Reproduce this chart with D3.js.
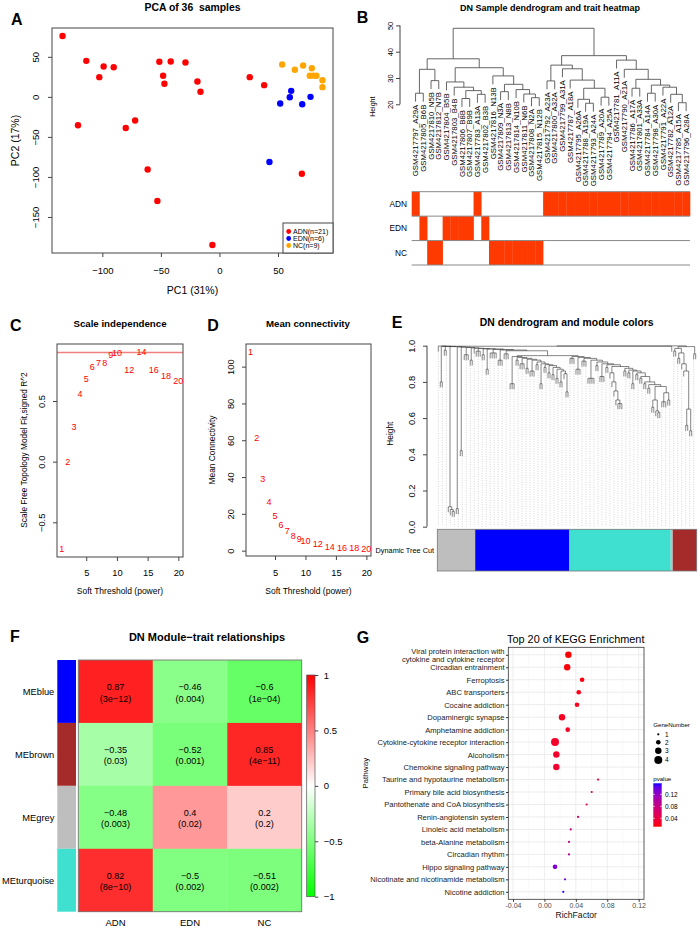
<!DOCTYPE html>
<html><head><meta charset="utf-8">
<script src="https://cdn.jsdelivr.net/npm/d3@7"></script>
<style>body{margin:0;background:#fff}svg{display:block}</style>
</head><body>
<script>
// ---------------- DATA ----------------
// Panel A: PCA
const pcaGroups = ["ADN(n=21)", "EDN(n=6)", "NC(n=9)"];
const adnPC1 = [-134, -113.7, -98.9, -90.3, -102.6, -120.8, -80, -72, -61.3, -53, -51.3, -41.6, -29, -48.1, -47, -18.8, -16.2, -6, 25.9, 38.2, 70.4];
const adnPC2 = [76, 45, 38, 37, 24.6, -35.4, -38.8, -29.6, -90.8, -130, 43.8, 44.2, 43, 26.3, 16.3, 19.2, 6.3, -185, 24.6, 14.6, -96];
const ednPC1 = [51.9, 61.3, 60.1, 70.7, 77.8, 42.7];
const ednPC2 = [-8.3, 7.5, -0.4, -9.2, 0, -81.3];
const ncPC1 = [53.6, 64.4, 71.5, 78.9, 77.2, 80, 82.8, 88, 88];
const ncPC2 = [40.4, 33.8, 39.2, 35.8, 26.3, 26.5, 26.3, 20.8, 12.1];
const pcaXTicks = [-100, -50, 0, 50];
const pcaYTicks = [-150, -100, -50, 0, 50];

// Panel B: sample dendrogram + trait heatmap
const sampleLabels = ["GSM4217797_A29A","GSM4217805_B6B","GSM4217810_N5B","GSM4217812_N7B","GSM4217804_B5B","GSM4217803_B4B","GSM4217806_B8B","GSM4217807_B9B","GSM4217783_A13A","GSM4217802_B3B","GSM4217816_N13B","GSM4217809_N3A","GSM4217813_N8B","GSM4217814_N10B","GSM4217811_N6B","GSM4217808_N2A","GSM4217815_N12B","GSM4217792_A23A","GSM4217800_A32A","GSM4217799_A31A","GSM4217787_A18A","GSM4217795_A26A","GSM4217788_A19A","GSM4217793_A24A","GSM4217789_A20A","GSM4217794_A25A","GSM4217781_A11A","GSM4217790_A21A","GSM4217786_A17A","GSM4217801_A33A","GSM4217784_A14A","GSM4217798_A30A","GSM4217791_A22A","GSM4217782_A12A","GSM4217785_A15A","GSM4217796_A28A"];
const traitNames = ["ADN", "EDN", "NC"];
const traitCode = {A: "ADN", B: "EDN", N: "NC"};
// [merge height, left, right]; numbers = leaf index
const sampleTree = [48.9,
  [37.3,
    [33.3, [24.2, 0, 1], [29.0, 2, 3]],
    [33.9,
      [28.5, 4, [26.5, 5, [25.2, [22.2, 6, 7], [23.8, 8, 9]]]],
      [30.8, 10, [27.6, [24.8, 11, 12], [25.6, 13, [23.9, 14, [22.5, 15, 16]]]]]]],
  [38.5,
    [34.9, [28.9, 17, 18], [33.5, 19, [29.2, 20, [26.1, [21.9, 21, [20.4, 22, 23]], [22.7, 24, 25]]]]],
    [36.8, 26, [33.3, 27, [29.5, [26.1, 28, 29], [27.3, [24.2, 30, 31], [26.5, 32, [23.8, 33, [20.6, 34, 35]]]]]]]]];
const sampleYTicks = [20, 30, 40, 50];

// Panel C / D: soft threshold
const powers = [1,2,3,4,5,6,7,8,9,10,12,14,16,18,20];
const scaleFitR2 = [-0.72, 0.0, 0.29, 0.56, 0.68, 0.78, 0.816, 0.816, 0.877, 0.893, 0.756, 0.904, 0.756, 0.71, 0.667];
const meanConnectivity = [107.8, 61.4, 38.8, 26.5, 18.9, 13.8, 10.9, 8.0, 6.2, 5.1, 3.5, 2.2, 1.8, 1.3, 1.0];
const r2Cutoff = 0.9;

// Panel E: gene dendrogram ([attach height, subtree]; 0 = gene leaf)
const eLeftElems = [
  [0.998, 0], [0.997, [0.80, 0, 0]], [0.996, [0.975, 0, 0]],
  [0.995, [0.11, 0, [0.095, 0, [0.085, 0, 0]]]], [0.993, [0.10, 0, 0]], [0.992, [0.42, 0, 0]],
  [0.99, [0.95, 0, 0, 0]], [0.988, [0.92, 0, 0]], [0.986, 0],
  [0.984, [0.97, 0, 0, 0]], [0.983, [0.95, 0, 0]], [0.982, [0.87, 0, 0]],
  [0.979, [0.96, 0, 0, 0, 0]], [0.976, [0.92, 0, 0, 0]], [0.972, [0.955, 0, 0, 0]]];
const eBlueElems = [
  [0.94, [0.79, 0, 0, 0]], [0.935, [0.92, 0, 0]], [0.93, [0.90, 0, 0, 0]], [0.925, [0.875, 0, 0]],
  [0.92, [0.86, 0, 0, 0]], [0.91, [0.895, 0, 0]], [0.90, [0.79, 0, 0]], [0.895, [0.88, 0, 0]],
  [0.89, [0.85, 0, 0]], [0.88, [0.84, 0, 0]], [0.87, [0.82, 0, 0]], [0.86, [0.80, 0, 0]]];
const eBlueTail = [0.845, 0, [0.745, 0, 0]];
const eTurqElems = [
  [0.94, [0.93, 0, 0, 0]], [0.935, [0.87, 0, 0, 0]], [0.93, [0.915, 0, 0, 0]], [0.92, [0.82, 0, 0, 0, 0]],
  [0.91, [0.89, 0, 0]], [0.90, [0.83, 0, 0, 0]], [0.895, [0.88, 0, 0]],
  [0.885, [0.85, 0, [0.80, 0, [0.75, 0, [0.70, 0, [0.68, 0, 0, 0]]]]]],
  [0.875, [0.86, 0, 0]], [0.865, [0.85, 0, 0]], [0.86, [0.79, 0, 0]], [0.85, [0.84, 0, 0]],
  [0.83, [0.82, 0, 0]], [0.80, [0.79, 0, 0]], [0.785, [0.765, 0, 0]]];
const eTurqTail = [0.775, [0.70, [0.66, 0, 0], [0.64, 0, [0.63, 0, 0]]], [0.74, [0.69, 0, 0, 0], [0.70, 0, 0]]];
const eBrownElems = [[0.985, [0.97, 0, 0]], [0.96, [0.93, 0, 0]], [0.90, 0], [0.86, 0]];
const eBrownTail = [0.65, [0.56, 0, 0], [0.53, 0, 0]];
const eBrownStub = [0.955, 0, 0];
const eModuleSizes = [["grey", 19], ["blue", 47], ["turquoise", 51], ["grey", 1], ["brown", 12]];
const eYTicks = [0, 0.2, 0.4, 0.6, 0.8, 1.0];

// Panel F: module-trait relationships
const modules = ["MEblue", "MEbrown", "MEgrey", "MEturquoise"];
const traits = ["ADN", "EDN", "NC"];
const corValues = [[0.87, -0.46, -0.6], [-0.35, -0.52, 0.85], [-0.48, 0.4, 0.2], [0.82, -0.5, -0.51]];
const corPValues = [["3e-12", "0.004", "1e-04"], ["0.03", "0.001", "4e-11"], ["0.003", "0.02", "0.2"], ["8e-10", "0.002", "0.002"]];
const corLegendTicks = [-1, -0.5, 0, 0.5, 1];

// Panel G: KEGG enrichment
const pathways = ["Viral protein interaction with\ncytokine and cytokine receptor", "Circadian entrainment", "Ferroptosis", "ABC transporters", "Cocaine addiction", "Dopaminergic synapse", "Amphetamine addiction", "Cytokine-cytokine receptor interaction", "Alcoholism", "Chemokine signaling pathway", "Taurine and hypotaurine metabolism", "Primary bile acid biosynthesis", "Pantothenate and CoA biosynthesis", "Renin-angiotensin system", "Linoleic acid metabolism", "beta-Alanine metabolism", "Circadian rhythm", "Hippo signaling pathway", "Nicotinate and nicotinamide metabolism", "Nicotine addiction"];
const richFactor = [0.0305, 0.029, 0.048, 0.0437, 0.0415, 0.0224, 0.0297, 0.0135, 0.0152, 0.0152, 0.0683, 0.0602, 0.0538, 0.0428, 0.0335, 0.0313, 0.0313, 0.0135, 0.0262, 0.024];
const geneNumber = [3, 3, 2, 2, 2, 3, 2, 4, 3, 3, 1, 1, 1, 1, 1, 1, 1, 2, 1, 1];
const pValue = [0.012, 0.014, 0.016, 0.018, 0.02, 0.022, 0.024, 0.026, 0.028, 0.03, 0.04, 0.045, 0.05, 0.06, 0.08, 0.09, 0.095, 0.13, 0.14, 0.155];
const richTicks = [-0.04, 0, 0.04, 0.08, 0.12];
const geneLegend = [1, 2, 3, 4];
const pLegendTicks = [0.04, 0.08, 0.12];

// ---------------- DRAWING ----------------
const FONT = "'Liberation Sans', Arial, Helvetica, sans-serif";
const AX = "#444";
const svg = d3.select("body").append("svg").attr("width", 699).attr("height", 936).attr("font-family", FONT);
svg.append("rect").attr("width", 699).attr("height", 936).attr("fill", "#fff");
const defs = svg.append("defs");

function label(g, x, y, s, o = {}) {
  const t = g.append("text").attr("x", x).attr("y", y).text(s)
    .attr("font-size", o.fs || 9).attr("text-anchor", o.anchor || "start").attr("fill", o.fill || "#000");
  if (o.bold) t.attr("font-weight", "bold");
  if (o.rot) t.attr("transform", `rotate(${o.rot},${x},${y})`);
  if (o.pre) t.style("white-space", "pre");
  return t;
}
const fmtR = d => d3.format("")(d);
function rBottom(g, scale, ticks, y0, fs, base, fmt, line) {
  const a = g.append("g").attr("transform", `translate(0,${y0})`)
    .call(d3.axisBottom(scale).tickValues(ticks).tickSize(4).tickFormat(fmt || fmtR));
  a.attr("font-family", FONT).attr("font-size", fs);
  a.select(".domain").remove();
  if (line) a.append("line").attr("x1", scale(ticks[0])).attr("x2", scale(ticks[ticks.length - 1])).attr("stroke", AX);
  a.selectAll(".tick line").attr("stroke", AX);
  a.selectAll(".tick text").attr("y", base).attr("dy", 0).attr("fill", "#000");
  return a;
}
function rLeft(g, scale, ticks, x0, fs, d, fmt, line) {
  const a = g.append("g").attr("transform", `translate(${x0},0)`)
    .call(d3.axisLeft(scale).tickValues(ticks).tickSize(4).tickFormat(fmt || fmtR));
  a.attr("font-family", FONT).attr("font-size", fs);
  a.select(".domain").remove();
  if (line) a.append("line").attr("y1", scale(ticks[0])).attr("y2", scale(ticks[ticks.length - 1])).attr("stroke", AX);
  a.selectAll(".tick line").attr("stroke", AX);
  a.selectAll(".tick text").attr("x", 0).attr("y", -d).attr("dy", 0)
    .attr("transform", "rotate(-90)").attr("text-anchor", "middle").attr("fill", "#000");
  return a;
}
function layoutDendro(node, leafX) {
  if (typeof node === "number") { const p = leafX(node); return {leaf: true, x: p.x, id: p.id}; }
  const kids = node.slice(1).map(k => layoutDendro(k, leafX));
  return {leaf: false, h: node[0], x: d3.mean(kids, k => k.x), kids};
}
function drawDendro(g, root, y, hang, leafOut, stroke, sw) {
  const segs = [];
  (function rec(n) {
    if (n.leaf) return;
    const xs = n.kids.map(k => k.x);
    segs.push(`M${d3.min(xs)},${y(n.h)}H${d3.max(xs)}`);
    n.kids.forEach(k => {
      const hb = k.leaf ? n.h - hang : k.h;
      segs.push(`M${k.x},${y(n.h)}V${y(hb)}`);
      if (k.leaf) leafOut.push({x: k.x, h: hb, id: k.id});
      rec(k);
    });
  })(root);
  g.append("path").attr("d", segs.join("")).attr("fill", "none").attr("stroke", stroke).attr("stroke-width", sw);
}
function panelLetter(x, y, s) { label(svg, x, y, s, {fs: 16, bold: true}); }

// ===== Panel A =====
{
  const g = svg.append("g");
  const x = d3.scaleLinear().domain([-143, 97]).range([52, 333]);
  const y = d3.scaleLinear().domain([-195, 86]).range([253, 28]);
  panelLetter(11, 25, "A");
  label(g, 192.5, 11, "PCA of 36  samples", {fs: 10.4, bold: true, anchor: "middle", pre: true});
  rBottom(g, x, pcaXTicks, 253, 9.5, 20.5, null, false);
  rLeft(g, y, pcaYTicks, 52, 9.5, 13.5, null, false);
  g.append("rect").attr("x", 52).attr("y", 28).attr("width", 281).attr("height", 225).attr("fill", "none").attr("stroke", AX);
  const cols = ["#ff0000", "#0000ff", "#ffa500"];
  const sets = [[adnPC1, adnPC2], [ednPC1, ednPC2], [ncPC1, ncPC2]];
  sets.forEach(([px, py], gi) => {
    g.selectAll(null).data(px).enter().append("circle")
      .attr("cx", d => x(d)).attr("cy", (d, i) => y(py[i])).attr("r", 3.2).attr("fill", cols[gi]);
  });
  label(g, 192.5, 293.5, "PC1 (31%)", {fs: 10.5, anchor: "middle"});
  label(g, 18.5, 140.5, "PC2 (17%)", {fs: 10.5, anchor: "middle", rot: -90});
  const lg = g.append("g");
  lg.append("rect").attr("x", 283).attr("y", 223).attr("width", 50).attr("height", 30).attr("fill", "#fff").attr("stroke", AX);
  pcaGroups.forEach((t, i) => {
    const yy = 231.5 + i * 7;
    lg.append("circle").attr("cx", 288.7).attr("cy", yy).attr("r", 2.4).attr("fill", cols[i]);
    label(lg, 293, yy + 2.5, t, {fs: 7});
  });
}

// ===== Panel B =====
{
  const g = svg.append("g");
  panelLetter(356.7, 23.3, "B");
  label(g, 550, 10.5, "DN Sample dendrogram and trait heatmap", {fs: 9, bold: true, anchor: "middle"});
  const x = d3.scaleBand().domain(d3.range(sampleLabels.length)).range([411.7, 690]);
  const y = d3.scaleLinear().domain([20, 50]).range([104.3, 25.4]);
  const root = layoutDendro(sampleTree, i => ({x: x(i) + x.bandwidth() / 2, id: i}));
  const leaves = [];
  drawDendro(g, root, y, 3.2, leaves, "#555", 0.9);
  leaves.forEach(l => {
    const ly = y(l.h) + 3;
    g.append("text").attr("transform", `translate(${l.x},${ly}) rotate(-90)`)
      .attr("text-anchor", "end").attr("dy", "0.35em").attr("font-size", 7.8).attr("fill", "#000")
      .text(sampleLabels[l.id]);
  });
  rLeft(g, y, sampleYTicks, 400, 7.5, 7.3, null, true);
  label(g, 375.5, 106.7, "Height", {fs: 7, anchor: "middle", rot: -90});
  // heatmap
  const rowY = d3.scaleBand().domain(traitNames).range([191.7, 265]);
  sampleLabels.forEach((s, i) => {
    const t = traitCode[s.split("_")[1][0]];
    g.append("rect").attr("x", x(i)).attr("y", rowY(t)).attr("width", x.bandwidth() + 0.3)
      .attr("height", rowY.bandwidth()).attr("fill", "#ff3a00");
  });
  [191.7].concat(traitNames.map(t => rowY(t) + rowY.bandwidth())).forEach(yy => {
    g.append("line").attr("x1", 411.7).attr("x2", 690).attr("y1", yy).attr("y2", yy).attr("stroke", "#888").attr("stroke-width", 1);
  });
  traitNames.forEach(t => label(g, 407, rowY(t) + rowY.bandwidth() / 2 + 3, t, {fs: 8.3, anchor: "end"}));
}

// ===== Panel C =====
{
  const g = svg.append("g");
  panelLetter(10, 330.7, "C");
  const x = d3.scaleLinear().domain([0.24, 20.76]).range([57, 183]);
  const y = d3.scaleLinear().domain([-0.786, 0.97]).range([557, 344]);
  label(g, 120, 326.5, "Scale independence", {fs: 9.7, bold: true, anchor: "middle"});
  rBottom(g, x, [5, 10, 15, 20], 557, 9.3, 19, null, false);
  rLeft(g, y, [-0.5, 0, 0.5], 57, 9.3, 11.6, d3.format(".1f"), false);
  g.append("line").attr("x1", 57).attr("x2", 183).attr("y1", y(r2Cutoff)).attr("y2", y(r2Cutoff)).attr("stroke", "#f08080").attr("stroke-width", 1.3);
  g.append("rect").attr("x", 57).attr("y", 344).attr("width", 126).attr("height", 213).attr("fill", "none").attr("stroke", AX);
  g.selectAll(null).data(powers).enter().append("text")
    .attr("x", d => x(d)).attr("y", (d, i) => y(scaleFitR2[i])).attr("dy", "0.35em")
    .attr("text-anchor", "middle").attr("font-size", 9).attr("fill", "#ff0000").text(d => d);
  label(g, 120, 593.5, "Soft Threshold (power)", {fs: 8.5, anchor: "middle"});
  label(g, 27.3, 450, "Scale Free Topology Model Fit,signed R^2", {fs: 8.3, anchor: "middle", rot: -90});
}

// ===== Panel D =====
{
  const g = svg.append("g");
  panelLetter(207.3, 330.7, "D");
  const x = d3.scaleLinear().domain([0.24, 20.76]).range([246, 371]);
  const y = d3.scaleLinear().domain([-2.9, 112.3]).range([556, 344]);
  label(g, 308, 326.5, "Mean connectivity", {fs: 9.7, bold: true, anchor: "middle"});
  rBottom(g, x, [5, 10, 15, 20], 556, 9.3, 20, null, false);
  rLeft(g, y, [0, 20, 40, 60, 80, 100], 246, 9.3, 11.6, null, false);
  g.append("rect").attr("x", 246).attr("y", 344).attr("width", 125).attr("height", 212).attr("fill", "none").attr("stroke", AX);
  g.selectAll(null).data(powers).enter().append("text")
    .attr("x", d => x(d)).attr("y", (d, i) => y(meanConnectivity[i])).attr("dy", "0.35em")
    .attr("text-anchor", "middle").attr("font-size", 9).attr("fill", "#ff0000").text(d => d);
  label(g, 308.5, 593.5, "Soft Threshold (power)", {fs: 8.5, anchor: "middle"});
  label(g, 215, 450, "Mean Connectivity", {fs: 8.4, anchor: "middle", rot: -90});
}

// ===== Panel E =====
{
  const g = svg.append("g");
  panelLetter(391.7, 328.3, "E");
  label(g, 566.7, 325.5, "DN dendrogram and module colors", {fs: 10.4, bold: true, anchor: "middle"});
  const chain = (elems, tail) => elems.reduceRight((rest, [h, sub]) => [h, sub, rest], tail);
  const eTree = [0.999,
    [0.997, chain(eLeftElems, [0.945, chain(eBlueElems, eBlueTail), chain(eTurqElems, eTurqTail)]), 0],
    [0.995, chain(eBrownElems, eBrownTail), eBrownStub]];
  const nLeaves = d3.sum(eModuleSizes, d => d[1]);
  const x = d3.scaleBand().domain(d3.range(nLeaves)).range([437.3, 696.7]);
  const y = d3.scaleLinear().domain([0, 1]).range([526.7, 345.7]);
  let counter = 0;
  const root = layoutDendro(eTree, () => { const i = counter++; return {x: x(i) + x.bandwidth() / 2, id: i}; });
  const leaves = [];
  const dg = g.append("g");
  drawDendro(dg, root, y, 0.03, leaves, "#333", 0.6);
  // guides
  const gg = g.insert("g", ":first-child");
  leaves.filter(l => l.id % 2 === 0).forEach(l => {
    gg.append("line").attr("x1", l.x).attr("x2", l.x).attr("y1", y(l.h)).attr("y2", y(0))
      .attr("stroke", "#b8b8b8").attr("stroke-width", 0.6).attr("stroke-dasharray", "1,1.4");
  });
  rLeft(g, y, eYTicks, 427, 9.3, 12.3, d3.format(".1f"), true);
  label(g, 393.3, 433.7, "Height", {fs: 8.4, anchor: "middle", rot: -90});
  // module colors
  const mcol = {grey: "#bebebe", blue: "#0000ff", turquoise: "#40e0d0", brown: "#a52a2a"};
  let idx = 0;
  eModuleSizes.forEach(([m, n]) => {
    g.append("rect").attr("x", x(idx)).attr("y", 529.3).attr("width", x.bandwidth() * n).attr("height", 41.7).attr("fill", mcol[m]);
    idx += n;
  });
  g.append("rect").attr("x", 437.3).attr("y", 529.3).attr("width", 259.4).attr("height", 41.7).attr("fill", "none").attr("stroke", "#777").attr("stroke-width", 0.8);
  label(g, 434, 552.5, "Dynamic Tree Cut", {fs: 7.3, anchor: "end"});
}

// ===== Panel F =====
{
  const g = svg.append("g");
  panelLetter(10, 641.7, "F");
  label(g, 207, 641, "DN Module\u2212trait relationships", {fs: 11, bold: true, anchor: "middle"});
  const x = d3.scaleBand().domain(traits).range([78.3, 301.7]);
  const y = d3.scaleBand().domain(modules).range([660, 911.7]);
  const col = d3.scaleLinear().domain([-1, 0, 1]).range(["#00ff00", "#ffffff", "#ff0000"]);
  const mcol = {MEblue: "#0000ff", MEbrown: "#a52a2a", MEgrey: "#bebebe", MEturquoise: "#40e0d0"};
  const minus = s => String(s).replace(/-/g, "\u2212");
  modules.forEach((m, i) => {
    g.append("rect").attr("x", 57.3).attr("y", y(m)).attr("width", 18.7).attr("height", y.bandwidth()).attr("fill", mcol[m]);
    label(g, 54.3, y(m) + y.bandwidth() / 2 + 3.3, m, {fs: 9.3, anchor: "end"});
    traits.forEach((t, j) => {
      g.append("rect").attr("x", x(t)).attr("y", y(m)).attr("width", x.bandwidth() + 0.3).attr("height", y.bandwidth() + 0.3).attr("fill", col(corValues[i][j]));
      const cx = x(t) + x.bandwidth() / 2, cy = y(m) + y.bandwidth() / 2;
      label(g, cx, cy - 1.5, minus(corValues[i][j]), {fs: 9.1, anchor: "middle"});
      label(g, cx, cy + 10.1, "(" + minus(corPValues[i][j]) + ")", {fs: 9.1, anchor: "middle"});
    });
  });
  g.append("rect").attr("x", 78.3).attr("y", 660).attr("width", 223.4).attr("height", 251.7).attr("fill", "none").attr("stroke", "#777").attr("stroke-width", 0.9);
  traits.forEach(t => label(g, x(t) + x.bandwidth() / 2, 925.7, t, {fs: 9.5, anchor: "middle"}));
  // legend
  const ly = d3.scaleLinear().domain([-1, 1]).range([896.7, 675]);
  const grad = defs.append("linearGradient").attr("id", "gF").attr("x1", 0).attr("y1", 1).attr("x2", 0).attr("y2", 0);
  d3.range(0, 1.0001, 0.05).forEach(t => grad.append("stop").attr("offset", t).attr("stop-color", col(-1 + 2 * t)));
  g.append("rect").attr("x", 306.7).attr("y", 675).attr("width", 8.3).attr("height", 221.7).attr("fill", "url(#gF)").attr("stroke", "#555").attr("stroke-width", 0.7);
  const a = g.append("g").attr("transform", "translate(315,0)")
    .call(d3.axisRight(ly).tickValues(corLegendTicks).tickSize(3.3).tickPadding(5.5).tickFormat(d3.format("")));
  a.attr("font-family", FONT).attr("font-size", 9.5);
  a.select(".domain").remove();
  a.selectAll(".tick line").attr("stroke", AX);
  a.selectAll(".tick text").attr("fill", "#000");
}

// ===== Panel G =====
{
  const g = svg.append("g");
  panelLetter(356.7, 643.3, "G");
  label(g, 507, 643, "Top 20 of KEGG Enrichment", {fs: 10.9});
  const x = d3.scaleLinear().domain([-0.046, 0.1268]).range([508.3, 644]);
  const y = d3.scalePoint().domain(pathways).range([647.3, 899.3]).padding(0.6);
  const col = d3.scaleLinear().domain([0.012, 0.157]).range(["#ff0000", "#0000ff"]).interpolate(d3.interpolateLab);
  const rs = d3.scalePow().exponent(0.5).domain([1, 4]).range([1.1, 4.0]);
  g.append("rect").attr("x", 508.3).attr("y", 647.3).attr("width", 135.7).attr("height", 252).attr("fill", "#fff");
  [-0.02, 0.02, 0.06, 0.10].forEach(v => g.append("line").attr("x1", x(v)).attr("x2", x(v)).attr("y1", 647.3).attr("y2", 899.3).attr("stroke", "#f3f3f3").attr("stroke-width", 0.5));
  richTicks.forEach(v => g.append("line").attr("x1", x(v)).attr("x2", x(v)).attr("y1", 647.3).attr("y2", 899.3).attr("stroke", "#e8e8e8").attr("stroke-width", 0.8));
  pathways.forEach(p => g.append("line").attr("x1", 508.3).attr("x2", 644).attr("y1", y(p)).attr("y2", y(p)).attr("stroke", "#e8e8e8").attr("stroke-width", 0.8));
  g.selectAll(null).data(pathways).enter().append("circle")
    .attr("cx", (d, i) => x(richFactor[i])).attr("cy", d => y(d))
    .attr("r", (d, i) => rs(geneNumber[i])).attr("fill", (d, i) => col(pValue[i]));
  g.append("rect").attr("x", 508.3).attr("y", 647.3).attr("width", 135.7).attr("height", 252).attr("fill", "none").attr("stroke", "#333").attr("stroke-width", 0.8);
  // axes
  const ax = g.append("g").attr("transform", "translate(0,899.3)")
    .call(d3.axisBottom(x).tickValues(richTicks).tickSize(2.5).tickFormat(d3.format(".2f")));
  ax.attr("font-family", FONT).attr("font-size", 7);
  ax.select(".domain").remove();
  ax.selectAll(".tick line").attr("stroke", "#333");
  ax.selectAll(".tick text").attr("y", 8.7).attr("dy", 0).attr("fill", "#4d4d4d").text(d => d3.format(".2f")(d).replace("\u2212", "-"));
  const ay = g.append("g").attr("transform", "translate(508.3,0)")
    .call(d3.axisLeft(y).tickSize(2.3).tickPadding(1.5));
  ay.attr("font-family", FONT).attr("font-size", 7.6);
  ay.select(".domain").remove();
  ay.selectAll(".tick line").attr("stroke", "#333");
  ay.selectAll(".tick text").attr("fill", "#222").each(function(d) {
    const lines = d.split("\n");
    if (lines.length > 1) {
      const t = d3.select(this), tx = t.attr("x");
      t.text(null).attr("dy", 0);
      lines.forEach((l, i) => t.append("tspan").attr("x", tx).attr("dy", i === 0 ? "-0.19em" : "1.01em").text(l));
    }
  });
  label(g, 576.2, 917.5, "RichFactor", {fs: 8.6, anchor: "middle", fill: "#111"});
  label(g, 368.3, 773.3, "Pathway", {fs: 8.1, anchor: "middle", rot: -90, fill: "#111"});
  // size legend
  label(g, 653.3, 727, "GeneNumber", {fs: 6.1});
  const gy = [734.3, 742.3, 750.7, 760];
  geneLegend.forEach((n, i) => {
    g.append("circle").attr("cx", 658.3).attr("cy", gy[i]).attr("r", rs(n)).attr("fill", "#000");
    label(g, 665, gy[i] + 2.3, n, {fs: 6.5});
  });
  // pvalue legend
  label(g, 653.3, 780.5, "pvalue", {fs: 6.1});
  const py = d3.scaleLinear().domain([0.012, 0.157]).range([826.7, 783.3]);
  const grad = defs.append("linearGradient").attr("id", "gG").attr("x1", 0).attr("y1", 1).attr("x2", 0).attr("y2", 0);
  d3.range(0, 1.0001, 0.05).forEach(t => grad.append("stop").attr("offset", t).attr("stop-color", col(0.012 + t * 0.145)));
  g.append("rect").attr("x", 653.3).attr("y", 783.3).attr("width", 8.4).attr("height", 43.4).attr("fill", "url(#gG)");
  pLegendTicks.forEach(v => {
    g.append("line").attr("x1", 653.3).attr("x2", 655).attr("y1", py(v)).attr("y2", py(v)).attr("stroke", "#fff").attr("stroke-width", 0.6);
    g.append("line").attr("x1", 660).attr("x2", 661.7).attr("y1", py(v)).attr("y2", py(v)).attr("stroke", "#fff").attr("stroke-width", 0.6);
    label(g, 665, py(v) + 2.3, d3.format(".2f")(v), {fs: 6.5});
  });
}
</script>
</body></html>
